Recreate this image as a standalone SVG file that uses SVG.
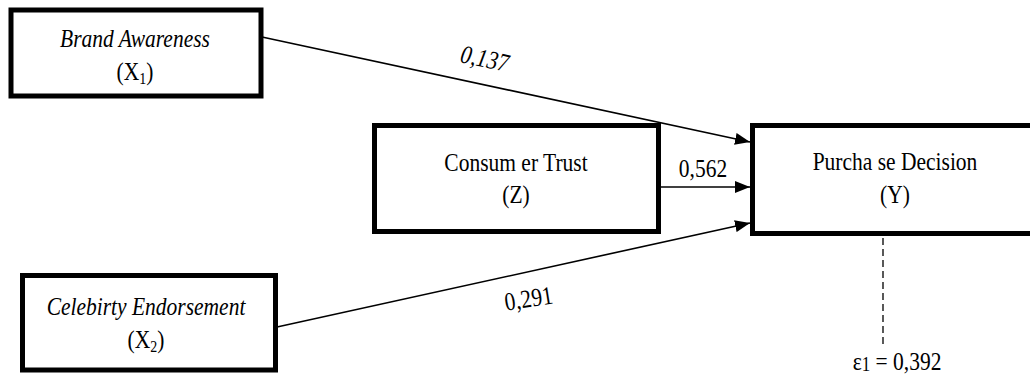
<svg xmlns="http://www.w3.org/2000/svg" width="1030" height="381" viewBox="0 0 1030 381">
  <style>
    .box { fill: #ffffff; stroke: #000000; stroke-width: 5; }
    .lbl { font-size: 21.5px; fill: #000000; text-anchor: middle; }
    .it { font-style: italic; }
    .sub { font-size: 14px; }
    .edge { stroke: #000000; stroke-width: 1.6; fill: none; }
    .dash { stroke: #000000; stroke-width: 1.3; stroke-dasharray: 7 4; fill: none; }
  </style>
  <defs>
    <marker id="arrow" markerUnits="userSpaceOnUse" markerWidth="16" markerHeight="12" refX="15" refY="6" orient="auto">
      <path d="M0,0 L15,6 L0,12 Z" fill="#000000"/>
    </marker>
  </defs>
  <rect width="1030" height="381" fill="#ffffff"/>

  <g font-family="Liberation Serif, Times New Roman, serif">
  <!-- paths and coefficients -->
  <g id="connectors">
    <line class="edge" x1="262" y1="37" x2="750" y2="142" marker-end="url(#arrow)"/>
    <line class="edge" x1="660" y1="187" x2="750" y2="187" marker-end="url(#arrow)"/>
    <line class="edge" x1="277" y1="327" x2="750" y2="223" marker-end="url(#arrow)"/>
    <line class="dash" x1="883" y1="238" x2="883" y2="346"/>
    <text class="lbl it" transform="translate(483,67) rotate(12) scale(1,1.2)">0,137</text>
    <text class="lbl" transform="translate(703,177) scale(1,1.2)">0,562</text>
    <text class="lbl" transform="translate(530,307) rotate(-9) scale(1,1.2)">0,291</text>
    <text class="lbl" transform="translate(897,370) scale(1,1.2)">ε<tspan font-size="17" dy="1">1</tspan><tspan dy="-1"> = 0,392</tspan></text>
  </g>

  <g id="brand-awareness">
    <rect class="box" x="11" y="10" width="250" height="86"/>
    <text class="lbl it" transform="translate(135,47) scale(1,1.2)">Brand Awareness</text>
    <text class="lbl" transform="translate(135,80) scale(1,1.2)">(X<tspan class="sub" dy="3">1</tspan><tspan dy="-3">)</tspan></text>
  </g>

  <g id="consumer-trust">
    <rect class="box" x="374.5" y="125.5" width="284" height="106"/>
    <text class="lbl" transform="translate(516,171) scale(1,1.2)">Consum er Trust</text>
    <text class="lbl" transform="translate(516,203) scale(1,1.2)">(Z)</text>
  </g>

  <g id="purchase-decision">
    <rect class="box" x="752.5" y="125.5" width="300" height="108"/>
    <text class="lbl" transform="translate(895,170) scale(1,1.2)">Purcha se Decision</text>
    <text class="lbl" transform="translate(895,203) scale(1,1.2)">(Y)</text>
  </g>

  <g id="celebrity-endorsement">
    <rect class="box" x="22.5" y="275.5" width="253" height="94.5"/>
    <text class="lbl it" transform="translate(146,315) scale(1,1.2)">Celebirty Endorsement</text>
    <text class="lbl" transform="translate(146,348) scale(1,1.2)">(X<tspan class="sub" dy="3">2</tspan><tspan dy="-3">)</tspan></text>
  </g>
  </g>
</svg>
